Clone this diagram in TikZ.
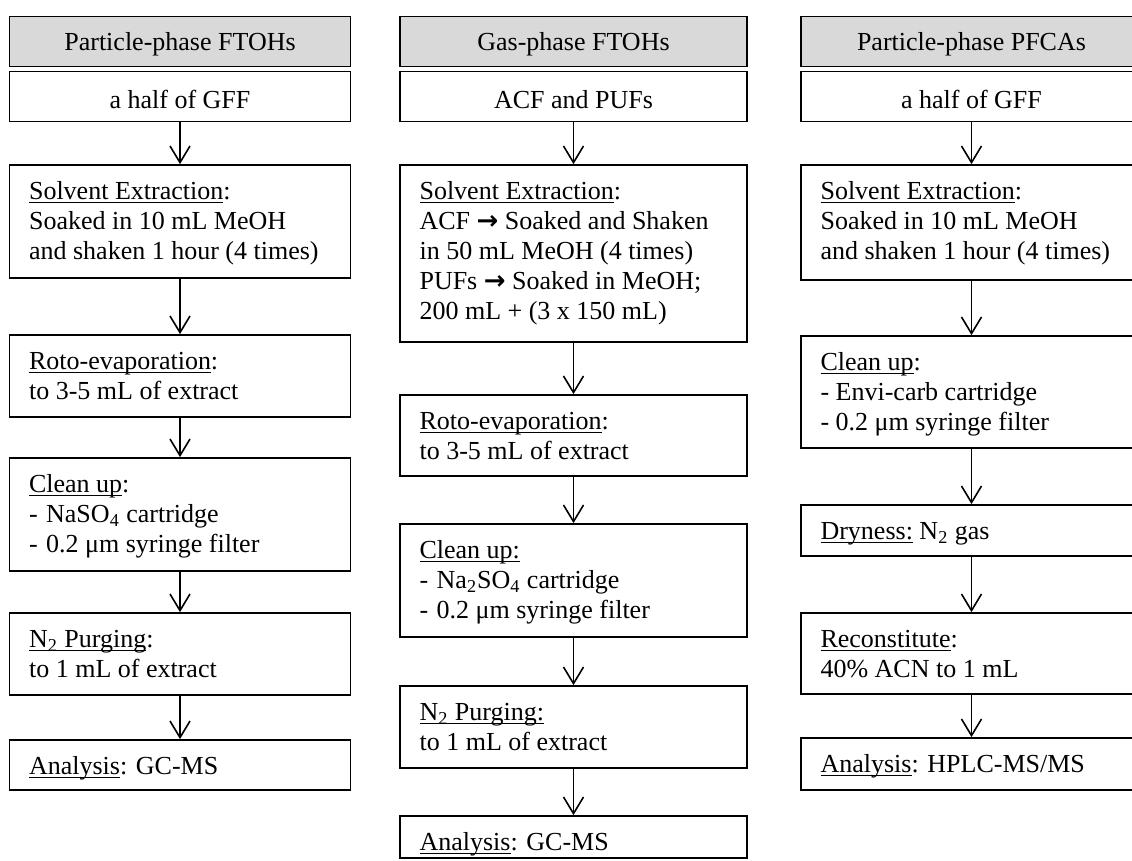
\documentclass[tikz,border=0pt]{standalone}
\usepackage{fontspec}
\setmainfont{Liberation Serif}
\newfontfamily\arrowfont{DejaVu Sans}
\usetikzlibrary{arrows.meta}

\definecolor{hdrgray}{HTML}{D9D9D9}

% underline at a fixed depth below the baseline
\newsavebox\ulsave
\newcommand\ulx[1]{\sbox\ulsave{#1}\rlap{\rule[-1.6pt]{\wd\ulsave}{0.5pt}}\usebox\ulsave}
\newcommand\arr{{\arrowfont\bfseries →}}
\newcommand\dashitem{-\ \kern1pt}

\tikzset{
  pbox/.style={draw, line width=0.85pt, fill=white, inner sep=0pt},
  hbox/.style={pbox, fill=hdrgray},
  ptext/.style={anchor=north west, inner sep=0pt, align=left,
                font=\fontsize{13}{15}\selectfont},
  ctext/.style={anchor=base, inner sep=0pt, font=\fontsize{13}{15}\selectfont},
  flow/.style={line width=0.8pt, -{Straight Barb[length=8.3pt,width=10pt,line width=0.8pt]}}
}

% #1 name, #2 left, #3 top, #4 width, #5 height (all in px units), #6 text
\newcommand\stepbox[6]{%
  \node[pbox, minimum width=#4*0.5pt, minimum height=#5*0.5pt] (#1) at (#2+#4/2,#3+#5/2) {};
  \node[ptext] (#1-t) at ([shift={(20,11)}]#1.north west) {\rule{0pt}{12pt}#6};
}
% #1 name, #2 left, #3 top, #4 width, #5 height, #6 style, #7 baseline offset, #8 text
\newcommand\titlebox[8]{%
  \node[#6, minimum width=#4*0.5pt, minimum height=#5*0.5pt] (#1) at (#2+#4/2,#3+#5/2) {};
  \node[ctext] (#1-t) at ([yshift=-#7*0.5pt]#1.north) {#8};
}

\begin{document}
\begin{tikzpicture}[x=0.5pt, y=-0.5pt]
\useasboundingbox (0,0) rectangle (1132,861);

% ---- Particle-phase FTOHs ----
\titlebox{h1}{9.5}{16.5}{341}{50}{hbox}{35}{Particle-phase FTOHs}
\titlebox{s1}{9.5}{71.5}{341}{50}{pbox}{37.5}{a half of GFF}
\stepbox{sol1}{9.5}{165}{341}{113}{\ulx{Solvent Extraction}:\\Soaked in 10 mL MeOH\\and shaken 1 hour (4 times)}
\stepbox{rot1}{9.5}{335}{341}{82}{\ulx{Roto-evaporation}:\\to 3-5 mL of extract}
\stepbox{cln1}{9.5}{458}{341}{113}{\ulx{Clean up}:\\\dashitem NaSO\textsubscript{4} cartridge\\\dashitem 0.2 μm syringe filter}
\stepbox{pur1}{9.5}{613}{341}{82}{\ulx{N\textsubscript{2} Purging}:\\to 1 mL of extract}
\stepbox{ana1}{9.5}{740}{341}{50}{\ulx{Analysis}: GC-MS}

% ---- Gas-phase FTOHs ----
\titlebox{h2}{400}{16.5}{347}{50}{hbox}{35}{Gas-phase FTOHs}
\titlebox{s2}{400}{71.5}{347}{50}{pbox}{37.5}{ACF and PUFs}
\stepbox{sol2}{400}{165}{347}{177}{\ulx{Solvent Extraction}:\\ACF \arr{} Soaked and Shaken\\in 50 mL MeOH (4 times)\\PUFs \arr{} Soaked in MeOH;\\200 mL + (3 x 150 mL)}
\stepbox{rot2}{400}{395}{347}{81}{\ulx{Roto-evaporation}:\\to 3-5 mL of extract}
\stepbox{cln2}{400}{524}{347}{113}{\ulx{Clean up:}\\\dashitem Na\textsubscript{2}SO\textsubscript{4} cartridge\\\dashitem 0.2 μm syringe filter}
\stepbox{pur2}{400}{686}{347}{82}{\ulx{N\textsubscript{2} Purging:}\\to 1 mL of extract}
\stepbox{ana2}{400}{816}{347}{42}{\ulx{Analysis}: GC-MS}

% ---- Particle-phase PFCAs ----
\titlebox{h3}{801}{16.5}{341}{50}{hbox}{35}{Particle-phase PFCAs}
\titlebox{s3}{801}{71.5}{341}{50}{pbox}{37.5}{a half of GFF}
\stepbox{sol3}{801}{165}{341}{115}{\ulx{Solvent Extraction}:\\Soaked in 10 mL MeOH\\and shaken 1 hour (4 times)}
\stepbox{cln3}{801}{336}{341}{112}{\ulx{Clean up}:\\- Envi-carb cartridge\\- 0.2 μm syringe filter}
\stepbox{dry3}{801}{505}{341}{51}{\ulx{Dryness:} N\textsubscript{2} gas}
\stepbox{rec3}{801}{613}{341}{81}{\ulx{Reconstitute}:\\40\% ACN to 1 mL}
\stepbox{ana3}{801}{738}{341}{52}{\ulx{Analysis}: HPLC-MS/MS}

% ---- flow arrows ----
\draw[flow] (s1.south) -- (sol1.north);
\draw[flow] (sol1.south) -- (rot1.north);
\draw[flow] (rot1.south) -- (cln1.north);
\draw[flow] (cln1.south) -- (pur1.north);
\draw[flow] (pur1.south) -- (ana1.north);

\draw[flow] (s2.south) -- (sol2.north);
\draw[flow] (sol2.south) -- (rot2.north);
\draw[flow] (rot2.south) -- (cln2.north);
\draw[flow] (cln2.south) -- (pur2.north);
\draw[flow] (pur2.south) -- (ana2.north);

\draw[flow] (s3.south) -- (sol3.north);
\draw[flow] (sol3.south) -- (cln3.north);
\draw[flow] (cln3.south) -- (dry3.north);
\draw[flow] (dry3.south) -- (rec3.north);
\draw[flow] (rec3.south) -- (ana3.north);
\end{tikzpicture}
\end{document}
